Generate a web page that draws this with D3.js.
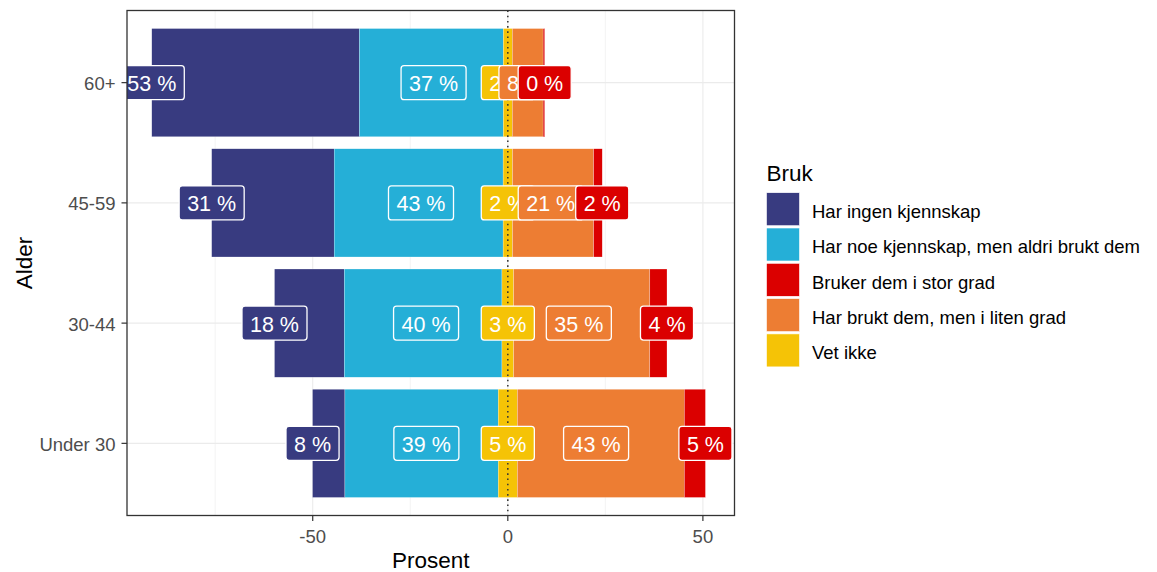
<!DOCTYPE html>
<html>
<head>
<meta charset="utf-8">
<script src="https://cdn.jsdelivr.net/npm/d3@7"></script>
<style>
  html, body { margin: 0; padding: 0; background: #ffffff; }
  svg { display: block; font-family: "Liberation Sans", Arial, sans-serif; }
</style>
</head>
<body>
<svg id="chart" width="1157" height="572"></svg>
<script>
// ---------- data ----------
const categories = ["60+", "45-59", "30-44", "Under 30"];
const harIngen   = [53.2, 31.4, 17.9, 8.3];   // Har ingen kjennskap
const harNoe     = [36.9, 43.3, 40.4, 39.3];  // Har noe kjennskap, men aldri brukt dem
const vetIkke    = [2.3, 2.4, 3.0, 4.9];      // Vet ikke
const litenGrad  = [7.9, 20.8, 34.9, 42.8];   // Har brukt dem, men i liten grad
const storGrad   = [0.4, 2.2, 4.4, 5.4];      // Bruker dem i stor grad
const legendLabels = ["Har ingen kjennskap", "Har noe kjennskap, men aldri brukt dem",
                      "Bruker dem i stor grad", "Har brukt dem, men i liten grad", "Vet ikke"];
const xTicks = [-50, 0, 50];
const xMinorTicks = [-75, -25, 25];
const xLimits = [-97.6, 58.1];

// ---------- style ----------
const colors = {
  ingen: "#383B80", noe: "#25AFD7", stor: "#DB0000", liten: "#ED7D33", vet: "#F5C306"
};
const legendColors = [colors.ingen, colors.noe, colors.stor, colors.liten, colors.vet];

const panel = { left: 127, right: 734.5, top: 10.5, bottom: 515.5 };

const svg = d3.select("#chart");

svg.append("defs").append("clipPath").attr("id", "panelClip")
  .append("rect")
  .attr("x", panel.left).attr("y", panel.top)
  .attr("width", panel.right - panel.left).attr("height", panel.bottom - panel.top);

const x = d3.scaleLinear().domain(xLimits).range([panel.left, panel.right]);
const y = d3.scaleBand().domain(categories).range([panel.top, panel.bottom])
  .paddingInner(0.1).paddingOuter(0.15);

// segments
const rows = categories.map((c, i) => {
  const h = vetIkke[i] / 2;
  return {
    cat: c,
    segs: [
      { key: "ingen", x0: -(h + harNoe[i] + harIngen[i]), x1: -(h + harNoe[i]), v: harIngen[i],
        lx: -(h + harNoe[i] + harIngen[i]) },
      { key: "noe", x0: -(h + harNoe[i]), x1: -h, v: harNoe[i], lx: -(h + harNoe[i]) / 2 },
      { key: "vet", x0: -h, x1: h, v: vetIkke[i], lx: 0 },
      { key: "liten", x0: h, x1: h + litenGrad[i], v: litenGrad[i], lx: (h + litenGrad[i]) / 2 },
      { key: "stor", x0: h + litenGrad[i], x1: h + litenGrad[i] + storGrad[i], v: storGrad[i],
        lx: h + litenGrad[i] + storGrad[i] }
    ]
  };
});

// grid
const grid = svg.append("g");
grid.selectAll(".minor").data(xMinorTicks).join("line")
  .attr("x1", d => x(d)).attr("x2", d => x(d))
  .attr("y1", panel.top).attr("y2", panel.bottom)
  .attr("stroke", "#EBEBEB").attr("stroke-width", 0.6);
grid.selectAll(".major").data(xTicks).join("line")
  .attr("x1", d => x(d)).attr("x2", d => x(d))
  .attr("y1", panel.top).attr("y2", panel.bottom)
  .attr("stroke", "#EBEBEB").attr("stroke-width", 1.1);
grid.selectAll(".hmajor").data(categories).join("line")
  .attr("x1", panel.left).attr("x2", panel.right)
  .attr("y1", d => y(d) + y.bandwidth() / 2).attr("y2", d => y(d) + y.bandwidth() / 2)
  .attr("stroke", "#EBEBEB").attr("stroke-width", 1.1);

// bars
const bars = svg.append("g").attr("clip-path", "url(#panelClip)");
rows.forEach(r => {
  bars.selectAll(null).data(r.segs).join("rect")
    .attr("x", d => x(d.x0))
    .attr("width", d => Math.max(0, x(d.x1) - x(d.x0)))
    .attr("y", y(r.cat))
    .attr("height", y.bandwidth())
    .attr("fill", d => colors[d.key])
    .attr("stroke", "#ffffff").attr("stroke-width", 0.4).attr("stroke-opacity", 0.6);
});

// zero line
svg.append("line")
  .attr("x1", x(0)).attr("x2", x(0))
  .attr("y1", panel.top).attr("y2", panel.bottom)
  .attr("stroke", "#333333").attr("stroke-width", 1.5)
  .attr("stroke-dasharray", "1.6 3.6");

// labels
const labG = svg.append("g").attr("clip-path", "url(#panelClip)");
const fs = 21.5, padX = 8, boxH = 34;
rows.forEach(r => {
  r.segs.forEach(s => {
    const cy = y(r.cat) + y.bandwidth() / 2;
    const g = labG.append("g");
    const t = g.append("text")
      .attr("x", x(s.lx)).attr("y", cy + 8.5)
      .attr("text-anchor", "middle")
      .attr("font-size", fs).attr("fill", "#ffffff")
      .text(Math.round(s.v) + " %");
    const w = t.node().getComputedTextLength() + 2 * padX;
    g.insert("rect", "text")
      .attr("x", x(s.lx) - w / 2).attr("y", cy - boxH / 2)
      .attr("width", w).attr("height", boxH)
      .attr("rx", 3).attr("ry", 3)
      .attr("fill", colors[s.key])
      .attr("stroke", "#ffffff").attr("stroke-width", 1.3);
  });
});

// panel border
svg.append("rect")
  .attr("x", panel.left).attr("y", panel.top)
  .attr("width", panel.right - panel.left).attr("height", panel.bottom - panel.top)
  .attr("fill", "none").attr("stroke", "#333333").attr("stroke-width", 1.3);

// x axis
const xa = svg.append("g");
xa.selectAll("line").data(xTicks).join("line")
  .attr("x1", d => x(d)).attr("x2", d => x(d))
  .attr("y1", panel.bottom).attr("y2", panel.bottom + 5.5)
  .attr("stroke", "#333333").attr("stroke-width", 1.2);
xa.selectAll("text").data(xTicks).join("text")
  .attr("x", d => x(d)).attr("y", 542.7)
  .attr("text-anchor", "middle").attr("font-size", 18.5).attr("fill", "#4D4D4D")
  .text(d => d);
svg.append("text")
  .attr("x", (panel.left + panel.right) / 2).attr("y", 567.5)
  .attr("text-anchor", "middle").attr("font-size", 22.5).attr("fill", "#000000")
  .text("Prosent");

// y axis
const ya = svg.append("g");
ya.selectAll("line").data(categories).join("line")
  .attr("x1", panel.left - 5.5).attr("x2", panel.left)
  .attr("y1", d => y(d) + y.bandwidth() / 2).attr("y2", d => y(d) + y.bandwidth() / 2)
  .attr("stroke", "#333333").attr("stroke-width", 1.2);
ya.selectAll("text").data(categories).join("text")
  .attr("x", 115.5).attr("y", d => y(d) + y.bandwidth() / 2 + 7.5)
  .attr("text-anchor", "end").attr("font-size", 18.5).attr("fill", "#4D4D4D")
  .text(d => d);
svg.append("text")
  .attr("transform", `translate(31.5, ${(panel.top + panel.bottom) / 2}) rotate(-90)`)
  .attr("text-anchor", "middle").attr("font-size", 22.5).attr("fill", "#000000")
  .text("Alder");

// legend
const lg = svg.append("g");
lg.append("text").attr("x", 766.5).attr("y", 181)
  .attr("font-size", 22.5).attr("fill", "#000000").text("Bruk");
const keyY0 = 192.7, keyStep = 35.3, keySize = 33;
lg.selectAll("rect").data(legendLabels).join("rect")
  .attr("x", 766.5).attr("y", (d, i) => keyY0 + i * keyStep)
  .attr("width", keySize).attr("height", keySize)
  .attr("fill", (d, i) => legendColors[i])
  .attr("stroke", "#ffffff").attr("stroke-width", 0.6);
lg.selectAll("text.item").data(legendLabels).join("text")
  .attr("class", "item")
  .attr("x", 812).attr("y", (d, i) => keyY0 + i * keyStep + keySize / 2 + 8.8)
  .attr("font-size", 18.5).attr("fill", "#000000")
  .text(d => d);
</script>
</body>
</html>
